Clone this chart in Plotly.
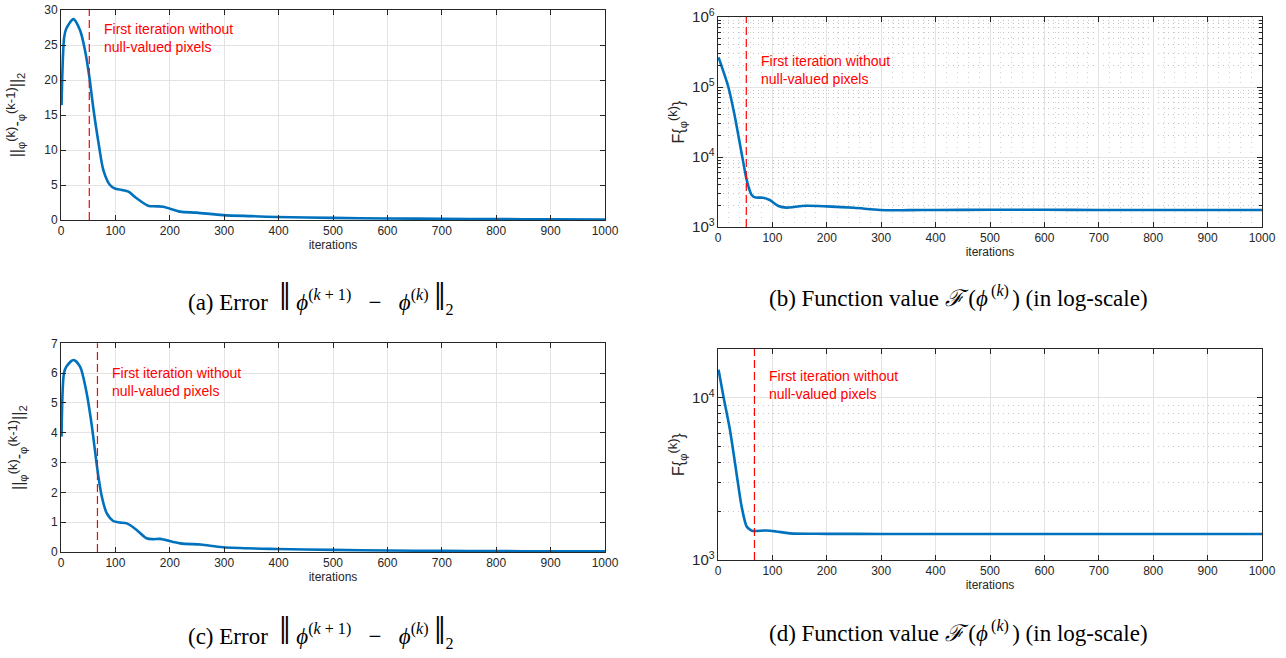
import plotly.graph_objects as go

# ---------------- data ----------------
ITER_A = [1, 6, 10, 23, 35, 44, 52, 59, 69, 78, 90, 99, 112, 124, 139, 160, 175, 188, 219, 249, 298, 350, 396, 500, 600, 700, 800, 900, 1000]
ERR_A = [16.4, 26.2, 27.4, 28.7, 27.1, 24.3, 20.5, 16.2, 11.0, 7.1, 5.0, 4.5, 4.3, 4.05, 3.1, 2.05, 1.95, 1.9, 1.2, 1.05, 0.7, 0.55, 0.43, 0.3, 0.22, 0.17, 0.13, 0.1, 0.08]

ITER_B = [1, 19, 31, 43.5, 51.5, 56, 62, 68, 83, 95, 111, 126, 140, 160, 200, 250, 298, 350, 400, 500, 600, 700, 800, 900, 1000]
F_B = [2.65e5, 1.0e5, 3.77e4, 1.12e4, 5.2e3, 3.77e3, 2.86e3, 2.65e3, 2.62e3, 2.43e3, 2.0e3, 1.89e3, 1.93e3, 2.01e3, 1.97e3, 1.88e3, 1.75e3, 1.74e3, 1.75e3, 1.76e3, 1.76e3, 1.75e3, 1.75e3, 1.75e3, 1.75e3]

ITER_C = [1, 5.5, 10, 23, 35, 46, 56, 67, 75, 84, 96, 108, 121, 139, 157, 170, 182, 219, 257, 298, 396, 500, 600, 700, 800, 900, 1000]
ERR_C = [3.87, 6.0, 6.22, 6.44, 6.22, 5.44, 4.32, 2.75, 1.86, 1.30, 1.04, 0.99, 0.96, 0.74, 0.46, 0.43, 0.44, 0.29, 0.25, 0.16, 0.1, 0.07, 0.05, 0.04, 0.03, 0.025, 0.02]

ITER_D = [1, 10, 22, 34, 43.5, 52.7, 60, 65, 89, 107, 132, 200, 300, 400, 500, 600, 700, 800, 900, 1000]
F_D = [14900, 10200, 6340, 3430, 2130, 1610, 1530, 1510, 1520, 1500, 1460, 1450, 1448, 1447, 1446, 1446, 1446, 1446, 1446, 1446]

FIRST_ITER_TOP = 52
FIRST_ITER_BOTTOM = 67

NOTE = "First iteration without<br>null-valued pixels"
YTITLE_ERR = ("||<sub>φ</sub><sup><span style='font-size:13px'>(k)</span></sup>-"
              "<sub>φ</sub><sup><span style='font-size:13px'>(k-1)</span></sup>||<sub>2</sub>")
YTITLE_F = "F{<sub>φ</sub><sup><span style='font-size:13px'>(k)</span></sup>}"
BAR = "<span style='font-size:40px'>‖</span>"
SP = "\u00a0"
CAP_A = ("(a) Error " + SP + BAR + SP + "<i>ϕ</i><sup>(<i>k</i>" + SP + "+" + SP + "1)</sup>"
         + SP * 3 + "−" + SP * 3 + "<i>ϕ</i><sup>(<i>k</i>)</sup>" + SP + BAR + "<sub>2</sub>")
CAP_B = ("(b) Function value <i>ℱ</i>\u2009(<i>ϕ</i><sup>\u2009(<i>k</i>)\u2009</sup>)"
         + SP + "(in log-scale)")
CAP_C = CAP_A.replace("(a)", "(c)")
CAP_D = CAP_B.replace("(b)", "(d)")

# ---------------- style / geometry ----------------
W, H = 1286, 658
L, T = 61, 10
R = W - 1262
B = H - 560
PW, PH = W - L - R, H - T - B
BLUE = "#0072BD"
AX = "#262626"
GRID = "#e3e3e3"
MINOR = "#c4c4c4"
FONT = "Liberation Sans, Arial, sans-serif"


def xdom(a, b):
    return [(a - L) / PW, (b - L) / PW]


def ydom(top, bottom):
    return [(H - B - bottom) / PH, (H - B - top) / PH]


def px(x):
    return (x - L) / PW


def py(y):
    return (H - B - y) / PH


XD_L = xdom(61, 605)
XD_R = xdom(718, 1262)
YD_A = ydom(10, 220)
YD_B = ydom(17, 227)
YD_C = ydom(343.3, 552)
YD_D = ydom(349, 560)

fig = go.Figure()
traces = [(ITER_A, ERR_A, "x", "y"), (ITER_B, F_B, "x2", "y2"),
          (ITER_C, ERR_C, "x3", "y3"), (ITER_D, F_D, "x4", "y4")]
for xs, ys, xa, ya in traces:
    fig.add_trace(go.Scatter(x=xs, y=ys, xaxis=xa, yaxis=ya, mode="lines",
                             line=dict(color=BLUE, width=2.6, shape="spline", smoothing=0.8),
                             showlegend=False, hoverinfo="skip"))

common = dict(showline=True, linecolor=AX, linewidth=1, mirror="ticks", ticks="inside",
              ticklen=5, tickcolor=AX, tickwidth=1, showgrid=True, gridcolor=GRID, gridwidth=1,
              zeroline=False, automargin=False, ticklabeloverflow="allow",
              tickfont=dict(family=FONT, size=12, color=AX))

xcommon = dict(common, range=[0, 1000], dtick=100, tick0=0,
               title=dict(text="iterations", font=dict(family=FONT, size=12, color=AX), standoff=3))
ytitle_font = dict(family=FONT, size=16, color=AX)
minor_log = dict(dtick="D1", showgrid=True, griddash="1px,4px", gridcolor=MINOR,
                 ticks="inside", ticklen=3, tickcolor=AX)

fig.update_layout(
    width=W, height=H, margin=dict(l=L, r=R, t=T, b=B, autoexpand=False),
    paper_bgcolor="white", plot_bgcolor="white",
    font=dict(family=FONT, color=AX),
    xaxis=dict(xcommon, domain=XD_L, anchor="y"),
    yaxis=dict(common, domain=YD_A, anchor="x", range=[0, 30], dtick=5,
               title=dict(text=YTITLE_ERR, font=ytitle_font, standoff=17)),
    xaxis2=dict(xcommon, domain=XD_R, anchor="y2",
                minor=dict(dtick=20, showgrid=True, griddash="1px,4px", gridcolor="#d2d2d2", ticks="")),
    yaxis2=dict(common, domain=YD_B, anchor="x2", type="log", range=[3, 6], dtick=1,
                exponentformat="power", minor=minor_log,
                title=dict(text=YTITLE_F, font=ytitle_font, standoff=3)),
    xaxis3=dict(xcommon, domain=XD_L, anchor="y3"),
    yaxis3=dict(common, domain=YD_C, anchor="x3", range=[0, 7], dtick=1,
                title=dict(text=YTITLE_ERR, font=ytitle_font, standoff=22)),
    xaxis4=dict(xcommon, domain=XD_R, anchor="y4"),
    yaxis4=dict(common, domain=YD_D, anchor="x4", type="log", range=[3, 4.301], dtick=1,
                exponentformat="power", minor=minor_log,
                title=dict(text=YTITLE_F, font=ytitle_font, standoff=3)),
)

# dashed markers for the first iteration without null-valued pixels
for xa, ya, it, ytxt in [("x", "y", FIRST_ITER_TOP, 0.955), ("x2", "y2", FIRST_ITER_TOP, 0.84),
                         ("x3", "y3", FIRST_ITER_BOTTOM, 0.905), ("x4", "y4", FIRST_ITER_BOTTOM, 0.92)]:
    fig.add_shape(type="line", xref=xa, yref=ya + " domain", x0=it, x1=it, y0=0, y1=1,
                  line=dict(color="rgb(255,0,0)", width=1.2, dash="8px,4px"))
    fig.add_annotation(xref=xa, yref=ya + " domain", x=it + 23, y=ytxt, xanchor="left",
                       yanchor="top", align="left", showarrow=False, text=NOTE,
                       font=dict(family=FONT, size=14, color="#ff0000"))

# captions
SERIF = "Liberation Serif, Times New Roman, serif"
for txt, x, y in [(CAP_A, 321, 297), (CAP_B, 958, 297), (CAP_C, 321, 630), (CAP_D, 958, 631)]:
    fig.add_annotation(xref="paper", yref="paper", x=px(x), y=py(y), xanchor="center",
                       yanchor="middle", showarrow=False, text=txt,
                       font=dict(family=SERIF, size=23, color="black"))

# remove the default 8px page margin so the figure fills the window exactly
fig.write_html("out.html", config={"displayModeBar": False},
               post_script="document.body.style.margin='0';")
